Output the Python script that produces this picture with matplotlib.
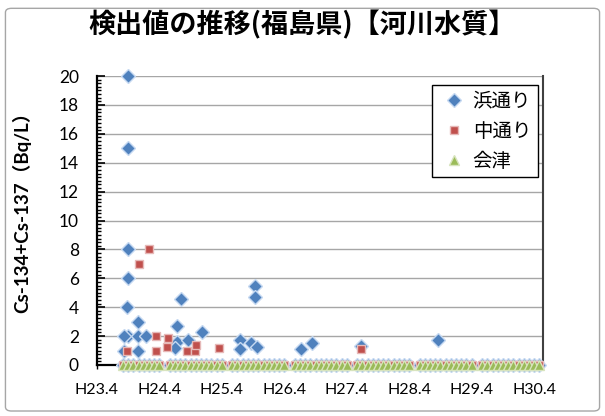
import matplotlib
matplotlib.use('Agg')
import matplotlib.pyplot as plt
from matplotlib.patches import FancyBboxPatch
from matplotlib.ticker import MultipleLocator

plt.rcParams['font.family'] = ['Lato', 'Noto Sans CJK JP', 'DejaVu Sans']

# x = months since H23.4 (April 2011)
year_ticks = [0, 12, 24, 36, 48, 60, 72, 84]
year_labels = ['H23.4', 'H24.4', 'H25.4', 'H26.4', 'H27.4', 'H28.4', 'H29.4', 'H30.4']

# detected values (Bq/L)
hama_x = [6.0, 6.0, 6.0, 6.0, 6.0, 5.7, 5.1, 5.1, 7.9, 7.9, 7.9, 9.4,
          15.4, 15.4, 16.2, 15.0, 17.5, 20.1, 27.5, 27.5, 29.5, 30.7,
          30.4, 30.4, 39.2, 41.3, 50.7, 65.6]
hama_y = [20, 15, 8, 6, 2, 4, 2, 1, 3, 2, 1, 2,
          2.7, 1.6, 4.6, 1.15, 1.75, 2.3, 1.72, 1.08, 1.52, 1.22,
          5.5, 4.7, 1.08, 1.55, 1.3, 1.7]

naka_x = [5.7, 8.1, 9.9, 11.3, 11.3, 13.6, 13.4, 17.25, 18.8, 19.0, 23.4, 50.7]
naka_y = [1.0, 7, 8, 2.0, 1.0, 1.9, 1.27, 1.0, 1.0, 1.38, 1.15, 1.08]

aizu_x = []
aizu_y = []

# months with ND results (plotted as 0)
nd_months = [5, 6, 7, 8, 9, 10, 11, 12,
             14, 15, 16, 17, 18, 19, 20, 21, 22, 23, 24,
             26, 27, 28, 29, 30, 31, 32, 33, 34, 35, 36,
             38, 39, 40, 41, 42, 43, 44, 45, 46, 47, 48,
             50, 51, 52, 53, 54, 55, 56, 57, 58, 59, 60,
             62, 63, 64, 65, 66, 67, 68, 69, 70, 71, 72,
             74, 75, 76, 77, 78, 79, 80, 81, 82, 83, 84, 85]
naka_nd_extra = [47.4]

fig = plt.figure(figsize=(6.05, 4.16), dpi=100)
fig.patches.append(FancyBboxPatch((0.009, 0.012), 0.982, 0.968,
                                  boxstyle='round,pad=0,rounding_size=0.01',
                                  transform=fig.transFigure, fc='white',
                                  ec='#A6A6A6', lw=1.0, zorder=-1))
ax = fig.add_axes([0.1603, 0.1226, 0.7372, 0.6947])

ax.plot(hama_x + nd_months, hama_y + [0] * len(nd_months), 'D', ms=7,
        mfc='#4F81BD', mec='#C6D9F1', mew=1.0, label='浜通り', clip_on=False, zorder=3)
ax.plot(naka_x + nd_months + naka_nd_extra,
        naka_y + [0] * (len(nd_months) + len(naka_nd_extra)), 's', ms=6.3,
        mfc='#C0504D', mec='#E6B9B8', mew=1.0, label='中通り', clip_on=False, zorder=4)
ax.plot(aizu_x + nd_months, aizu_y + [0] * len(nd_months), '^', ms=7,
        mfc='#9BBB59', mec='#D7E4BD', mew=1.0, label='会津', clip_on=False, zorder=5)

ax.set_xlim(0, 85.7)
ax.set_ylim(0, 20)
ax.set_xticks(year_ticks)
ax.set_xticklabels(year_labels)
ax.yaxis.set_major_locator(MultipleLocator(2))
ax.yaxis.set_minor_locator(MultipleLocator(0.25))

ax.grid(axis='y', color='#A6A6A6', lw=1.0)
ax.yaxis.get_gridlines()[-1].set_visible(False)
ax.set_axisbelow(True)

ax.spines['top'].set_visible(False)
ax.spines['left'].set_linewidth(1.6)
ax.spines['bottom'].set_linewidth(1.6)
ax.spines['right'].set_color('#404040')
ax.spines['right'].set_linewidth(1.5)

ax.tick_params(axis='y', which='major', direction='in', length=6, width=1.2,
               labelsize=12.5, pad=13)
ax.tick_params(axis='y', which='minor', direction='in', length=3, width=1.0)
ax.tick_params(axis='x', which='major', direction='out', length=3, width=1.0,
               labelsize=11.5, pad=10)
ax.tick_params(axis='y', right=False)

fig.text(22 / 605, 0.5, 'Cs-134+Cs-137（Bq/L）', rotation=90, ha='center',
         va='center', fontsize=13.5, fontweight='bold',
         family=['Lato', 'Noto Sans CJK JP'])

fig.text(0.5, 0.94, '検出値の推移(福島県)【河川水質】', ha='center', va='center',
         fontsize=19.5, fontweight='bold', family=['Noto Sans CJK JP'])

leg = ax.legend(loc='upper right', bbox_to_anchor=(0.989, 0.969), fontsize=14,
                frameon=True, fancybox=False, edgecolor='black', framealpha=1,
                handletextpad=0.15, labelspacing=0.62, borderpad=0.35,
                handlelength=1.6, borderaxespad=0)
leg.get_frame().set_linewidth(1.0)

plt.savefig('out.png', dpi=100)
plt.close('all')
